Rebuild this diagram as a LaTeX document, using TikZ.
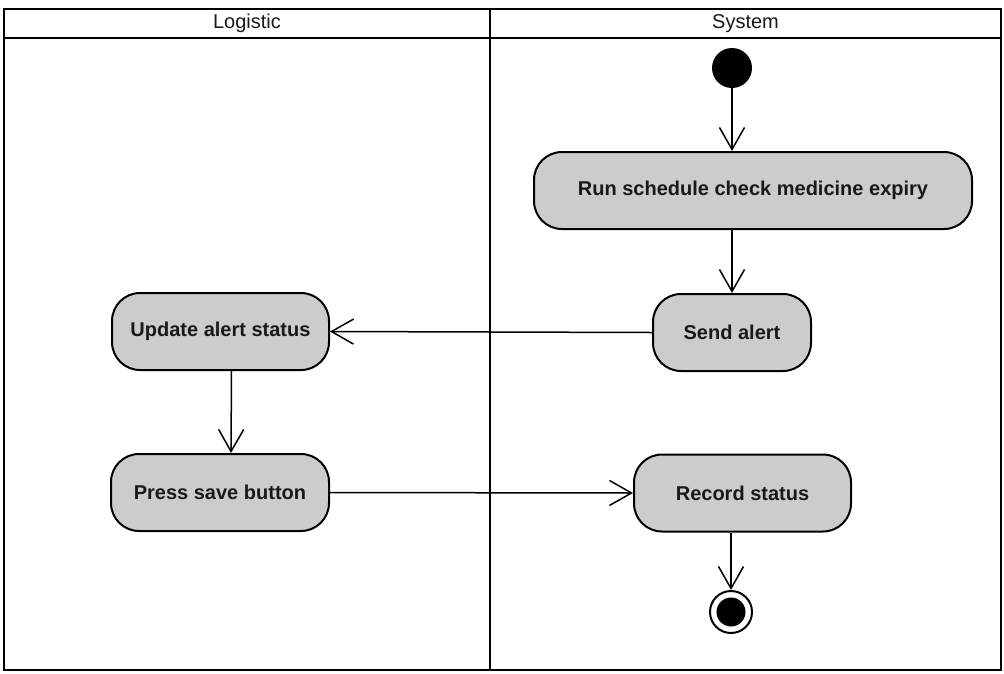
\documentclass[tikz,border=0pt]{standalone}
\usepackage{fontspec}
\setmainfont{Liberation Sans}
\usetikzlibrary{arrows.meta,calc}

\definecolor{actfill}{RGB}{204,204,204}
\definecolor{inkdark}{RGB}{25,25,25}

\tikzset{
  lane/.style={draw=black, line width=2.6pt},
  lanelabel/.style={font=\fontsize{20}{24}\selectfont, text=inkdark, inner sep=0pt},
  action/.style={draw=black, line width=2pt, fill=actfill, rounded corners=28pt,
    inner sep=0pt, minimum height=77pt,
    font=\bfseries\fontsize{20}{24}\selectfont, text=inkdark},
  flow/.style={draw=black, line width=1.5pt,
    -{Straight Barb[length=22pt,width=25pt,line width=1.5pt]}},
  startnode/.style={circle, fill=black, draw=none, minimum size=40pt, inner sep=0pt},
  endring/.style={circle, fill=white, draw=black, line width=2pt, minimum size=42pt, inner sep=0pt},
  endcore/.style={circle, fill=black, draw=none, minimum size=29pt, inner sep=0pt}
}

\begin{document}
\begin{tikzpicture}[x=1pt,y=-1pt]
  \useasboundingbox (0,0) rectangle (1004,673);
  \fill[white] (0,0) rectangle (1004,673);

  % swimlane frame
  \draw[lane] (4,9) rectangle (1001,670);
  \draw[lane] (4,38) -- (1001,38);
  \draw[lane] (490,9) -- (490,670);
  \node[lanelabel] (lg) at (247,23.5) {Logistic};
  \node[lanelabel] (sy) at (745.5,23.5) {System};

  % activities
  \node[startnode] (init) at (732,68) {};
  \node[action, minimum width=438pt] (run) at (753,190.5) {Run schedule check medicine expiry};
  \node[action, minimum width=158pt] (send) at (732,332.5) {Send alert};
  \node[action, minimum width=217pt] (update) at (220.5,331.5) {Update alert status};
  \node[action, minimum width=218pt] (press) at (220,492.5) {Press save button};
  \node[action, minimum width=217pt] (record) at (742.5,493) {Record status};
  \node[endring] (final) at (731,612) {};
  \node[endcore] (finalcore) at (final.center) {};

  % control flow
  \draw[flow] (init) -- (init |- run.north);
  \draw[flow] (run.south -| send) -- (send.north);
  \draw[flow] (send.west) -- (update.east);
  \draw[flow] ([xshift=11pt]update.south) -- ([xshift=11pt]press.north);
  \draw[flow] (press.east) -- (record.west);
  \draw[flow] (record.south -| final) -- (final.north);
\end{tikzpicture}
\end{document}
